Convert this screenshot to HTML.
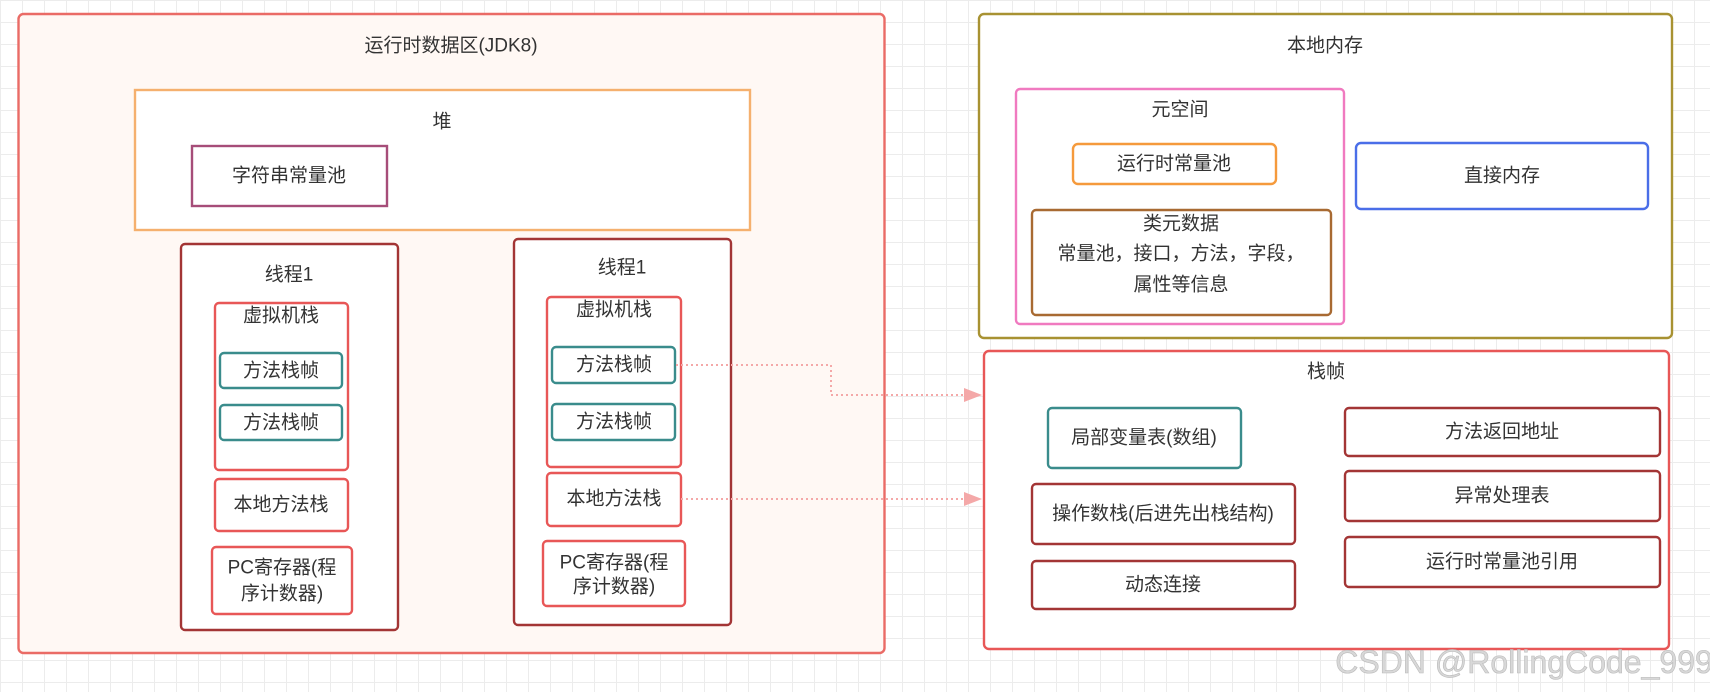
<!DOCTYPE html>
<html><head><meta charset="utf-8"><style>
html,body{margin:0;padding:0;width:1710px;height:692px;overflow:hidden;background:#fff;
background-image:linear-gradient(#ececec 1px,transparent 1px),linear-gradient(90deg,#ececec 1px,transparent 1px);background-size:22px 22px;}
svg text{font-family:"Liberation Sans","Noto Sans CJK SC",sans-serif;font-size:19px;fill:#333;text-anchor:middle;dominant-baseline:central}
</style></head><body>
<svg width="1710" height="692" xmlns="http://www.w3.org/2000/svg" style="position:absolute;left:0;top:0">
<g stroke-width="2.4">
<rect x="18.5" y="14" width="866" height="639" rx="5" fill="#fff8f4" stroke="#ea6b66"/>
<rect x="135" y="90" width="615" height="140" fill="#fff" stroke="#f5b06e"/>
<rect x="192" y="146" width="195" height="60" fill="#fff" stroke="#a64d79"/>
<rect x="181" y="244" width="217" height="386" rx="4" fill="#fff" stroke="#a33535"/>
<rect x="215" y="303" width="133" height="167" rx="4" fill="#fff" stroke="#e85757"/>
<rect x="220" y="353" width="122" height="35" rx="4" fill="#fff" stroke="#3a8c8c"/>
<rect x="220" y="405" width="122" height="35" rx="4" fill="#fff" stroke="#3a8c8c"/>
<rect x="215" y="479" width="133" height="52" rx="4" fill="#fff" stroke="#e85757"/>
<rect x="212" y="547" width="140" height="67" rx="4" fill="#fff" stroke="#e85757"/>
<rect x="514" y="239" width="217" height="386" rx="4" fill="#fff" stroke="#a33535"/>
<rect x="547" y="297" width="134" height="170" rx="4" fill="#fff" stroke="#e85757"/>
<rect x="552" y="347" width="123" height="36" rx="4" fill="#fff" stroke="#3a8c8c"/>
<rect x="552" y="404" width="123" height="36" rx="4" fill="#fff" stroke="#3a8c8c"/>
<rect x="547" y="473" width="134" height="53" rx="4" fill="#fff" stroke="#e85757"/>
<rect x="543" y="541" width="142" height="65" rx="4" fill="#fff" stroke="#e85757"/>
<rect x="979" y="14" width="693" height="324" rx="5" fill="#fff" stroke="#a89232"/>
<rect x="1016" y="89" width="328" height="235" rx="4" fill="#fff" stroke="#f07ac0"/>
<rect x="1073" y="144" width="203" height="40" rx="5" fill="#fff" stroke="#f59a3c"/>
<rect x="1032" y="210" width="299" height="105" rx="4" fill="#fff" stroke="#a86a32"/>
<rect x="1356" y="143" width="292" height="66" rx="5" fill="#fff" stroke="#4a6ee8"/>
<rect x="984" y="351" width="685" height="298" rx="5" fill="#fff" stroke="#e85757"/>
<rect x="1048" y="408" width="193" height="60" rx="4" fill="#fff" stroke="#3a8c8c"/>
<rect x="1032" y="484" width="263" height="60" rx="4" fill="#fff" stroke="#a33535"/>
<rect x="1032" y="561" width="263" height="48" rx="4" fill="#fff" stroke="#a33535"/>
<rect x="1345" y="408" width="315" height="48" rx="4" fill="#fff" stroke="#a33535"/>
<rect x="1345" y="471" width="315" height="50" rx="4" fill="#fff" stroke="#a33535"/>
<rect x="1345" y="537" width="315" height="50" rx="4" fill="#fff" stroke="#a33535"/>
</g>
<g stroke="#f4a8a8" stroke-width="2" stroke-dasharray="2,3" fill="none">
<polyline points="676,365 831,365 831,395 966,395"/>
<line x1="681" y1="499" x2="966" y2="499"/>
</g>
<polygon points="964,388 982,395 964,402" fill="#f4a8a8"/>
<polygon points="964,492 982,499 964,506" fill="#f4a8a8"/>
<text x="451" y="46">运行时数据区(JDK8)</text>
<text x="442" y="122">堆</text>
<text x="289" y="176">字符串常量池</text>
<text x="289" y="275">线程1</text>
<text x="281" y="316">虚拟机栈</text>
<text x="281" y="371">方法栈帧</text>
<text x="281" y="423">方法栈帧</text>
<text x="281" y="505">本地方法栈</text>
<text x="282" y="568">PC寄存器(程</text>
<text x="282" y="594">序计数器)</text>
<text x="622" y="268">线程1</text>
<text x="614" y="310">虚拟机栈</text>
<text x="614" y="365">方法栈帧</text>
<text x="614" y="422">方法栈帧</text>
<text x="614" y="499">本地方法栈</text>
<text x="614" y="563">PC寄存器(程</text>
<text x="614" y="587">序计数器)</text>
<text x="1325" y="46">本地内存</text>
<text x="1180" y="110">元空间</text>
<text x="1174" y="164">运行时常量池</text>
<text x="1181" y="224">类元数据</text>
<text x="1181" y="254">常量池，接口，方法，字段，</text>
<text x="1181" y="285">属性等信息</text>
<text x="1502" y="176">直接内存</text>
<text x="1326" y="372">栈帧</text>
<text x="1144" y="438">局部变量表(数组)</text>
<text x="1163" y="514">操作数栈(后进先出栈结构)</text>
<text x="1163" y="585">动态连接</text>
<text x="1502" y="432">方法返回地址</text>
<text x="1502" y="496">异常处理表</text>
<text x="1502" y="562">运行时常量池引用</text>
<text x="1524" y="662" style="font-size:32px;fill:#d8d8d8;stroke:#bbb;stroke-width:0.6">CSDN @RollingCode_999</text>
</svg>
</body></html>
